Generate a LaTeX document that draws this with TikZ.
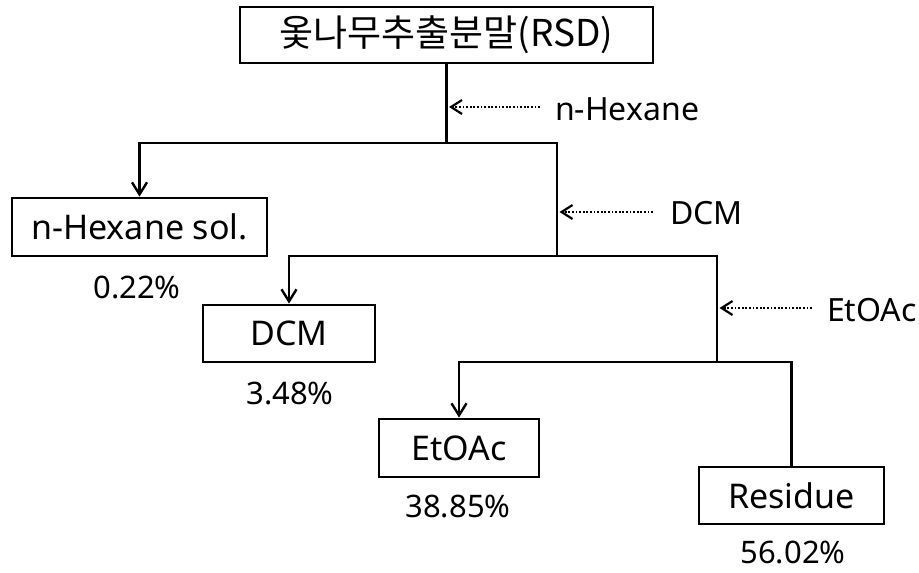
\documentclass[tikz,border=0pt]{standalone}
\usepackage{fontspec}
\setmainfont{Noto Sans}
\newfontfamily\kr{Noto Sans CJK KR}
\usetikzlibrary{arrows.meta}
\begin{document}
\begin{tikzpicture}[x=1pt,y=-1pt,
  box/.style={draw, line width=2.8pt, rectangle, inner sep=0pt, font=\fontsize{34}{40}\selectfont},
  pct/.style={inner sep=0pt, font=\fontsize{31}{36}\selectfont},
  side/.style={inner sep=0pt, anchor=west, font=\fontsize{32}{38}\selectfont},
  conn/.style={line width=2.8pt},
  arr/.style={conn, -{Straight Barb[length=12pt,width=15pt,line width=2.4pt]}},
  dotarr/.style={line width=2.6pt, dash pattern=on 1.8pt off 1.8pt, -{Straight Barb[length=11pt,width=14pt,line width=2.2pt]}}
]
\useasboundingbox (0,0) rectangle (919,573);

\node[box, minimum width=413pt, minimum height=56pt, font=\kr\fontsize{37}{44}\selectfont] (top) at (446.5,35) {옻나무추출분말(RSD)};
\node[box, minimum width=255pt, minimum height=58pt] (hex) at (139.5,227) {n-Hexane sol.};
\node[box, minimum width=172pt, minimum height=57pt] (dcm) at (289,333.5) {DCM};
\node[box, minimum width=160pt, minimum height=58pt] (eto) at (459,448) {EtOAc};
\node[box, minimum width=185pt, minimum height=57pt] (res) at (791.5,495.5) {Residue};

\node[pct] (p1) at (137,287) {0.22\%};
\node[pct] (p2) at (290,393) {3.48\%};
\node[pct] (p3) at (458,506) {38.85\%};
\node[pct] (p4) at (793,552) {56.02\%};

\node[side] (lhex) at (555,109) {n-Hexane};
\node[side] (ldcm) at (670,213) {DCM};
\node[side] (leto) at (827,310) {EtOAc};

\coordinate (j1) at (446.5,143);
\coordinate (j1r) at (557,143);
\coordinate (j2) at (557,256);
\coordinate (j2r) at (717,256);
\coordinate (j3) at (717,362);
\coordinate (j3r) at (791.5,362);

\draw[conn] (top.south) -- (j1);
\draw[arr] (j2) -- (j1r) -- (hex.north |- j1r) -- (hex.north);
\draw[arr] (j3) -- (j2r) -- (dcm.north |- j2r) -- (dcm.north);
\draw[arr] (res.north) -- (j3r) -- (eto.north |- j3r) -- (eto.north);

\coordinate (a1s) at (540,107);
\coordinate (a1e) at (449,107);
\coordinate (a2s) at (653,212);
\coordinate (a2e) at (559.5,212);
\coordinate (a3s) at (812,308);
\coordinate (a3e) at (719.5,308);
\draw[dotarr] (a1s) -- (a1e);
\draw[dotarr] (a2s) -- (a2e);
\draw[dotarr] (a3s) -- (a3e);
\end{tikzpicture}
\end{document}
